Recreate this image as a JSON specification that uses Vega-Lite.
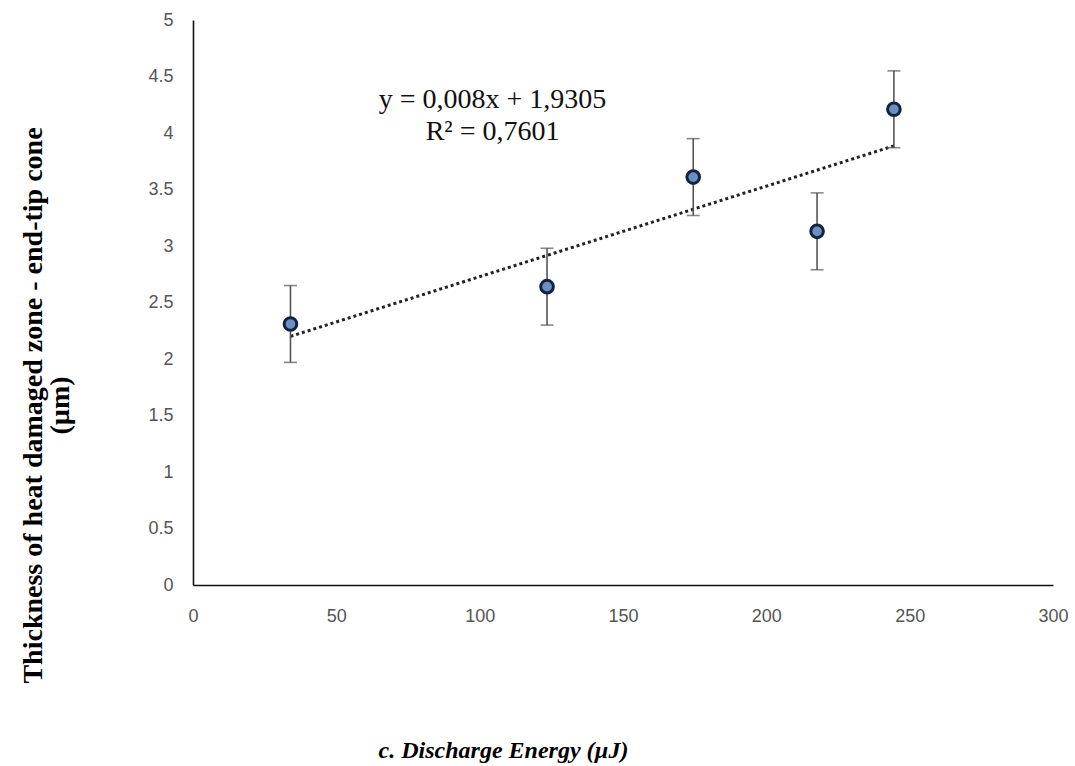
{
  "$schema": "https://vega.github.io/schema/vega-lite/v6.json",
  "width": 860,
  "height": 565,
  "autosize": {"type": "none"},
  "padding": {"left": 193, "top": 20, "right": 22, "bottom": 181},
  "background": "white",
  "config": {
    "view": {"stroke": null},
    "axis": {"grid": false, "ticks": false, "domainColor": "#111", "domainWidth": 1.6, "labelFlush": false,
      "labelFont": "Liberation Sans", "labelFontSize": 18, "labelColor": "#555"}
  },
  "datasets": {
    "pts": [
      {"energy": 34, "thick": 2.31, "lo": 1.97, "hi": 2.65},
      {"energy": 123.5, "thick": 2.64, "lo": 2.30, "hi": 2.98},
      {"energy": 174.5, "thick": 3.61, "lo": 3.27, "hi": 3.95},
      {"energy": 217.7, "thick": 3.13, "lo": 2.79, "hi": 3.47},
      {"energy": 244.5, "thick": 4.21, "lo": 3.87, "hi": 4.55}
    ],
    "trend": [
      {"energy": 34, "thick": 2.20},
      {"energy": 245, "thick": 3.89}
    ],
    "eq": [
      {"energy": 104.5, "thick": 4.29, "label": "y = 0,008x + 1,9305"},
      {"energy": 104.5, "thick": 4.01, "label": "R² = 0,7601"}
    ]
  },
  "encoding": {
    "x": {"field": "energy", "type": "quantitative",
      "scale": {"domain": [0, 300], "nice": false},
      "axis": {"values": [0, 50, 100, 150, 200, 250, 300], "labelPadding": 22,
        "title": "c. Discharge Energy (µJ)", "titleFont": "Liberation Serif", "titleFontSize": 24,
        "titleFontWeight": "bold", "titleFontStyle": "italic", "titleColor": "#000",
        "titleX": 310, "titleY": 165, "titleAlign": "center", "titleBaseline": "middle"}},
    "y": {"field": "thick", "type": "quantitative",
      "scale": {"domain": [0, 5], "nice": false},
      "axis": {"values": [0, 0.5, 1, 1.5, 2, 2.5, 3, 3.5, 4, 4.5, 5], "format": "~g", "labelPadding": 20,
        "title": ["Thickness of heat damaged zone - end-tip cone", "(µm)"],
        "titleFont": "Liberation Serif", "titleFontSize": 28, "titleFontWeight": "bold", "titleColor": "#000",
        "titleLineHeight": 27, "titleX": -160, "titleY": 385, "titleAlign": "center", "titleBaseline": "middle"}}
  },
  "layer": [
    {
      "data": {"name": "trend"},
      "mark": {"type": "line", "color": "#222", "strokeWidth": 3, "strokeDash": [3, 3]}
    },
    {
      "data": {"name": "pts"},
      "mark": {"type": "rule", "color": "#555", "strokeWidth": 1.6},
      "encoding": {"y": {"field": "lo", "type": "quantitative"}, "y2": {"field": "hi"}}
    },
    {
      "data": {"name": "pts"},
      "mark": {"type": "tick", "orient": "horizontal", "color": "#555", "thickness": 1.6, "size": 13},
      "encoding": {"y": {"field": "lo", "type": "quantitative"}}
    },
    {
      "data": {"name": "pts"},
      "mark": {"type": "tick", "orient": "horizontal", "color": "#555", "thickness": 1.6, "size": 13},
      "encoding": {"y": {"field": "hi", "type": "quantitative"}}
    },
    {
      "data": {"name": "pts"},
      "mark": {"type": "point", "shape": "circle", "filled": true, "fill": "#6b8fc2", "stroke": "#14233d", "strokeWidth": 3, "size": 160, "opacity": 1}
    },
    {
      "data": {"name": "eq"},
      "mark": {"type": "text", "font": "Liberation Serif", "fontSize": 28, "color": "#111", "align": "center", "baseline": "middle"},
      "encoding": {"text": {"field": "label"}}
    }
  ]
}
